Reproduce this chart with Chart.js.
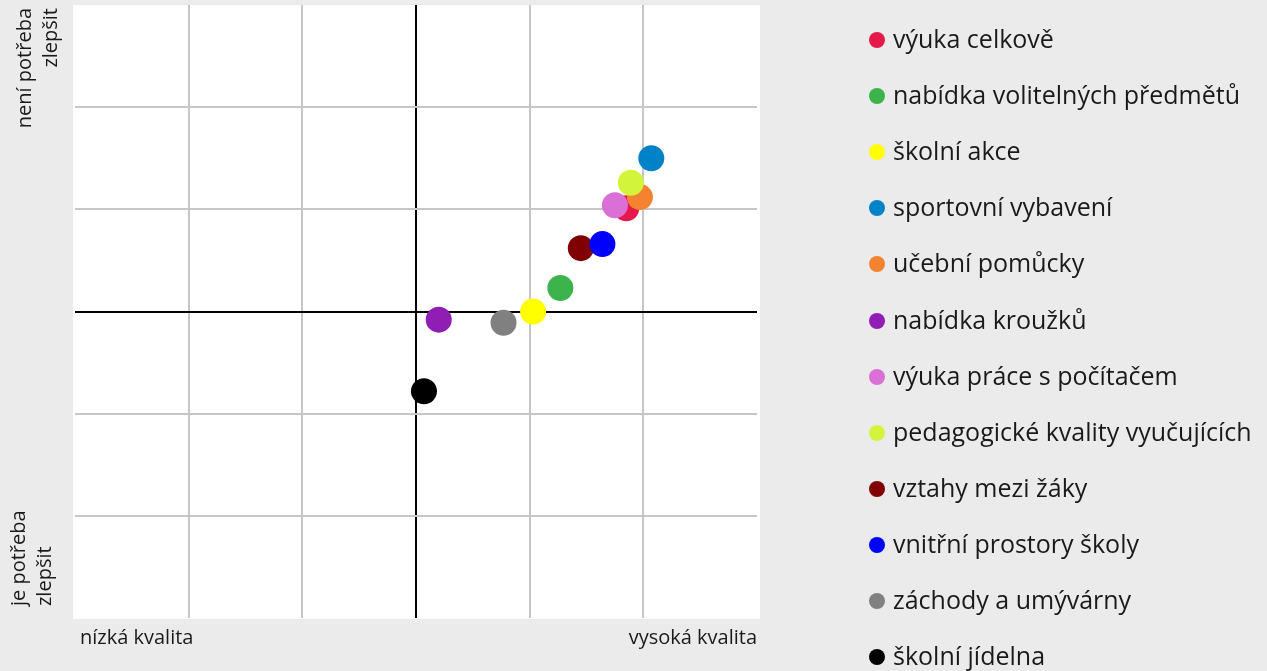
<!DOCTYPE html>
<html>
<head>
<meta charset="utf-8">
<script src="https://cdn.jsdelivr.net/npm/chart.js@4"></script>
<style>
    html, body { margin: 0; padding: 0; background: #ebebeb; }
    #wrap { position: relative; width: 1267px; height: 671px; overflow: hidden; }
    #chart { position: absolute; left: 0; top: 0; }
    #legend { position: absolute; left: 0; top: 0; font-family: "Open Sans", sans-serif; font-size: 25px; color: #1a1a1a; }
    .item { position: absolute; left: 869px; height: 34px; line-height: 34px; white-space: nowrap; }
    .dot { display: inline-block; width: 16px; height: 16px; border-radius: 50%; vertical-align: 0px; margin-right: 8px; }
</style>
</head>
<body>
<div id="wrap">
    <canvas id="chart" width="1267" height="671"></canvas>
    <div id="legend"></div>
</div>
<script>
// položky a jejich pozice (kvalita x potřeba zlepšit)
const labels = [
    "výuka celkově",
    "nabídka volitelných předmětů",
    "školní akce",
    "sportovní vybavení",
    "učební pomůcky",
    "nabídka kroužků",
    "výuka práce s počítačem",
    "pedagogické kvality vyučujících",
    "vztahy mezi žáky",
    "vnitřní prostory školy",
    "záchody a umývárny",
    "školní jídelna"
];
const quality = [1.85, 1.27, 1.03, 2.07, 1.97, 0.20, 1.75, 1.89, 1.45, 1.64, 0.77, 0.07];
const noNeed  = [1.01, 0.23, 0.00, 1.50, 1.12, -0.08, 1.04, 1.26, 0.62, 0.66, -0.11, -0.78];
const colors = [
    "#e6194b", "#3cb44b", "#ffff00", "#0082c8", "#f58231", "#911eb4",
    "#da70d6", "#d2f53c", "#800000", "#0000ff", "#808080", "#000000"
];
const axisMin = -3;
const axisMax = 3;

const FONT = '"Open Sans", sans-serif';

// bílé pozadí grafu + popisky os
const decor = {
    id: "decor",
    beforeDraw(chart) {
        const { ctx, chartArea: a } = chart;
        ctx.save();
        ctx.fillStyle = "#ffffff";
        ctx.fillRect(a.left - 2, a.top, a.right - a.left + 5, a.bottom - a.top + 1);
        ctx.restore();
    },
    afterDraw(chart) {
        const { ctx, chartArea: a } = chart;
        ctx.save();
        ctx.fillStyle = "#1a1a1a";
        ctx.font = "20px " + FONT;
        ctx.textBaseline = "middle";

        ctx.textAlign = "left";
        ctx.fillText("nízká kvalita", a.left + 5, 638);
        ctx.textAlign = "right";
        ctx.fillText("vysoká kvalita", a.right, 638);

        // svislé popisky
        ctx.rotate(-Math.PI / 2);
        ctx.textAlign = "right";
        ctx.fillText("není potřeba", -8, 25);
        ctx.fillText("zlepšit", -8, 51);
        ctx.textAlign = "left";
        ctx.fillText("je potřeba", -606, 19);
        ctx.fillText("zlepšit", -606, 45);
        ctx.restore();
    }
};

function gridColor(c) {
    const v = c.tick.value;
    if (v === 0) return "#000000";
    if (v === axisMin || v === axisMax) return "rgba(0,0,0,0)";
    return "#c6c6c6";
}

const scaleOpts = {
    min: axisMin,
    max: axisMax,
    ticks: { display: false, stepSize: 1 },
    grid: { color: gridColor, lineWidth: 2, drawTicks: false },
    border: { display: false }
};

new Chart(document.getElementById("chart"), {
    type: "scatter",
    data: {
        datasets: [{
            data: quality.map((x, i) => ({ x: x, y: noNeed[i] })),
            pointRadius: 13,
            pointHoverRadius: 13,
            pointBackgroundColor: colors,
            pointBorderWidth: 0
        }]
    },
    options: {
        responsive: false,
        animation: false,
        events: [],
        layout: { autoPadding: false, padding: { left: 75, top: 5, right: 510, bottom: 53 } },
        scales: { x: scaleOpts, y: scaleOpts },
        plugins: { legend: { display: false }, tooltip: { enabled: false } }
    },
    plugins: [decor]
});

// legenda vpravo
const legend = document.getElementById("legend");
labels.forEach((name, i) => {
    const row = document.createElement("div");
    row.className = "item";
    row.style.top = (40 + i * 56.1 - 19) + "px";
    row.innerHTML = '<span class="dot" style="background:' + colors[i] + '"></span>' + name;
    legend.appendChild(row);
});
</script>
</body>
</html>
